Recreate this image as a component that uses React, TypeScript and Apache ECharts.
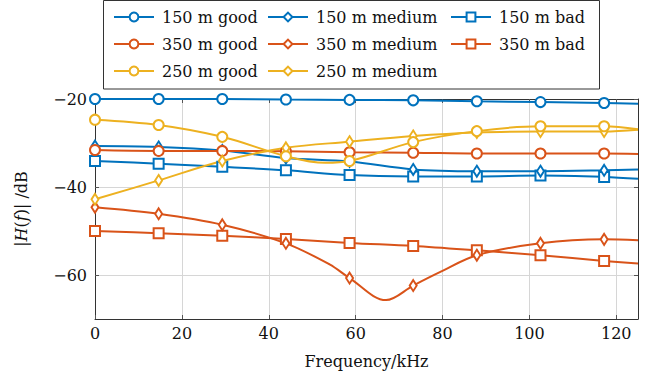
import React, { useEffect, useRef } from "react";
import * as echarts from "echarts";

// Frequencies (kHz) where markers are drawn
const freq = [0, 14.65, 29.3, 43.95, 58.6, 73.25, 87.9, 102.55, 117.2];
const fEnd = 125;

// |H(f)| in dB at the marker frequencies
const good150 = [-20.0, -20.0, -20.0, -20.1, -20.2, -20.3, -20.5, -20.7, -20.9];
const medium150 = [-30.7, -30.9, -31.7, -33.4, -34.2, -36.0, -36.4, -36.4, -36.2];
const bad150 = [-34.1, -34.7, -35.4, -36.2, -37.3, -37.6, -37.6, -37.4, -37.7];
const good350 = [-31.6, -31.8, -31.8, -31.9, -32.1, -32.2, -32.4, -32.4, -32.4];
const medium350 = [-44.6, -46.1, -48.6, -52.8, -60.7, -62.4, -55.5, -52.8, -51.9];
const bad350 = [-50.0, -50.5, -51.1, -51.8, -52.7, -53.4, -54.4, -55.5, -56.8];
const good250 = [-24.7, -25.9, -28.6, -33.0, -34.1, -29.8, -27.3, -26.2, -26.2];
const medium250 = [-42.8, -38.5, -34.1, -31.1, -29.7, -28.4, -27.6, -27.4, -27.4];

// values at the right edge (125 kHz)
const end150 = { good: -21.1, medium: -36.0, bad: -38.1 };
const end350 = { good: -32.5, medium: -52.1, bad: -57.4 };
const end250 = { good: -26.9, medium: -27.0 };

// extra curve points between markers (no marker)
const extra350Medium = [[54, -57.6], [67, -65.7], [79.5, -59.3]];
const extra250Good = [[53, -34.5]];

const xTicks = [0, 20, 40, 60, 80, 100, 120];
const yTicks = [-60, -40, -20];

const BLUE = "#0072BD";
const ORANGE = "#D95319";
const YELLOW = "#EDB120";
const FONT = "DejaVu Serif";

function makeData(values: number[], endVal: number, extras: number[][] = []) {
  const pts: any[] = values.map((v, i) => ({ value: [freq[i], v] }));
  extras.forEach((e) => pts.push({ value: [e[0], e[1]], symbol: "none" }));
  pts.push({ value: [fEnd, endVal], symbol: "none" });
  pts.sort((a, b) => a.value[0] - b.value[0]);
  return pts;
}

function series(name: string, color: string, symbol: string, size: any, data: any[]) {
  return {
    name,
    type: "line",
    data,
    smooth: 0.35,
    symbol,
    symbolSize: size,
    showSymbol: true,
    lineStyle: { color, width: 2 },
    itemStyle: { color, borderColor: color, borderWidth: 2 },
    emphasis: { disabled: true },
  };
}

export default function App() {
  const ref = useRef<HTMLDivElement>(null);
  useEffect(() => {
    const chart = echarts.init(ref.current!, null, { renderer: "svg" });
    const circle = 10;
    const square = 10;
    const diamond = [7, 11];
    const legendCommon = {
      orient: "vertical",
      top: 8,
      itemWidth: 40,
      itemHeight: 11,
      itemGap: 9,
      padding: 0,
      selectedMode: false,
      textStyle: { fontFamily: FONT, fontSize: 16, color: "#111", lineHeight: 18, padding: [0, 0, 0, 3] },
    };
    chart.setOption({
      animation: false,
      backgroundColor: "#fff",
      grid: { left: 95, right: 22, top: 99, bottom: 64, containLabel: false },
      legend: [
        { ...legendCommon, left: 113, data: ["150 m good", "350 m good", "250 m good"] },
        { ...legendCommon, left: 267, data: ["150 m medium", "350 m medium", "250 m medium"] },
        { ...legendCommon, left: 450, data: ["150 m bad", "350 m bad"] },
      ],
      graphic: [
        {
          type: "rect",
          shape: { x: 103.5, y: 0.5, width: 496, height: 88.5 },
          style: { fill: "none", stroke: "#333", lineWidth: 1 },
          silent: true,
          z: -1,
        },
      ],
      xAxis: [
        {
          type: "value",
          position: "bottom",
          min: 0,
          max: 125,
          name: "Frequency/kHz",
          nameLocation: "middle",
          nameGap: 34,
          nameTextStyle: { fontFamily: FONT, fontSize: 16, color: "#111" },
          axisLine: { show: true, onZero: false, lineStyle: { color: "#333", width: 1 } },
          axisTick: { show: true, inside: true, length: 4, customValues: xTicks, lineStyle: { color: "#555" } },
          axisLabel: { customValues: xTicks, fontFamily: FONT, fontSize: 16, color: "#111", margin: 6 },
          splitLine: { show: true, lineStyle: { color: "#d6d6d6", width: 1 } },
        },
        {
          type: "value",
          position: "top",
          min: 0,
          max: 125,
          axisLine: { show: true, onZero: false, lineStyle: { color: "#333", width: 1 } },
          axisTick: { show: true, inside: true, length: 4, customValues: xTicks, lineStyle: { color: "#555" } },
          axisLabel: { show: false },
          splitLine: { show: false },
        },
      ],
      yAxis: [
        {
          type: "value",
          position: "left",
          min: -70,
          max: -20,
          name: "|{i|H}({i|f})| /dB",
          nameLocation: "middle",
          nameGap: 66,
          nameRotate: 90,
          nameTextStyle: {
            fontFamily: FONT,
            fontSize: 16,
            color: "#111",
            rich: { i: { fontFamily: FONT, fontSize: 16, fontStyle: "italic", color: "#111" } },
          },
          axisLine: { show: true, onZero: false, lineStyle: { color: "#333", width: 1 } },
          axisTick: { show: true, inside: true, length: 4, customValues: yTicks, lineStyle: { color: "#555" } },
          axisLabel: {
            customValues: yTicks,
            fontFamily: FONT,
            fontSize: 16,
            color: "#111",
            margin: 8,
            formatter: (v: number) => (v < 0 ? "\u2212" + Math.abs(v) : String(v)),
          },
          splitLine: { show: true, lineStyle: { color: "#d6d6d6", width: 1 } },
        },
        {
          type: "value",
          position: "right",
          min: -70,
          max: -20,
          axisLine: { show: true, onZero: false, lineStyle: { color: "#333", width: 1 } },
          axisTick: { show: true, inside: true, length: 4, customValues: yTicks, lineStyle: { color: "#555" } },
          axisLabel: { show: false },
          splitLine: { show: false },
        },
      ],
      series: [
        series("350 m bad", ORANGE, "emptyRect", square, makeData(bad350, end350.bad)),
        series("350 m medium", ORANGE, "emptyDiamond", diamond, makeData(medium350, end350.medium, extra350Medium)),
        series("150 m bad", BLUE, "emptyRect", square, makeData(bad150, end150.bad)),
        series("150 m medium", BLUE, "emptyDiamond", diamond, makeData(medium150, end150.medium)),
        series("350 m good", ORANGE, "emptyCircle", circle, makeData(good350, end350.good)),
        series("250 m medium", YELLOW, "emptyDiamond", diamond, makeData(medium250, end250.medium)),
        series("250 m good", YELLOW, "emptyCircle", circle, makeData(good250, end250.good, extra250Good)),
        series("150 m good", BLUE, "emptyCircle", circle, makeData(good150, end150.good)),
      ],
    });
    return () => chart.dispose();
  }, []);
  return <div ref={ref} style={{ position: "fixed", left: 0, top: 0, width: 660, height: 383 }} />;
}
